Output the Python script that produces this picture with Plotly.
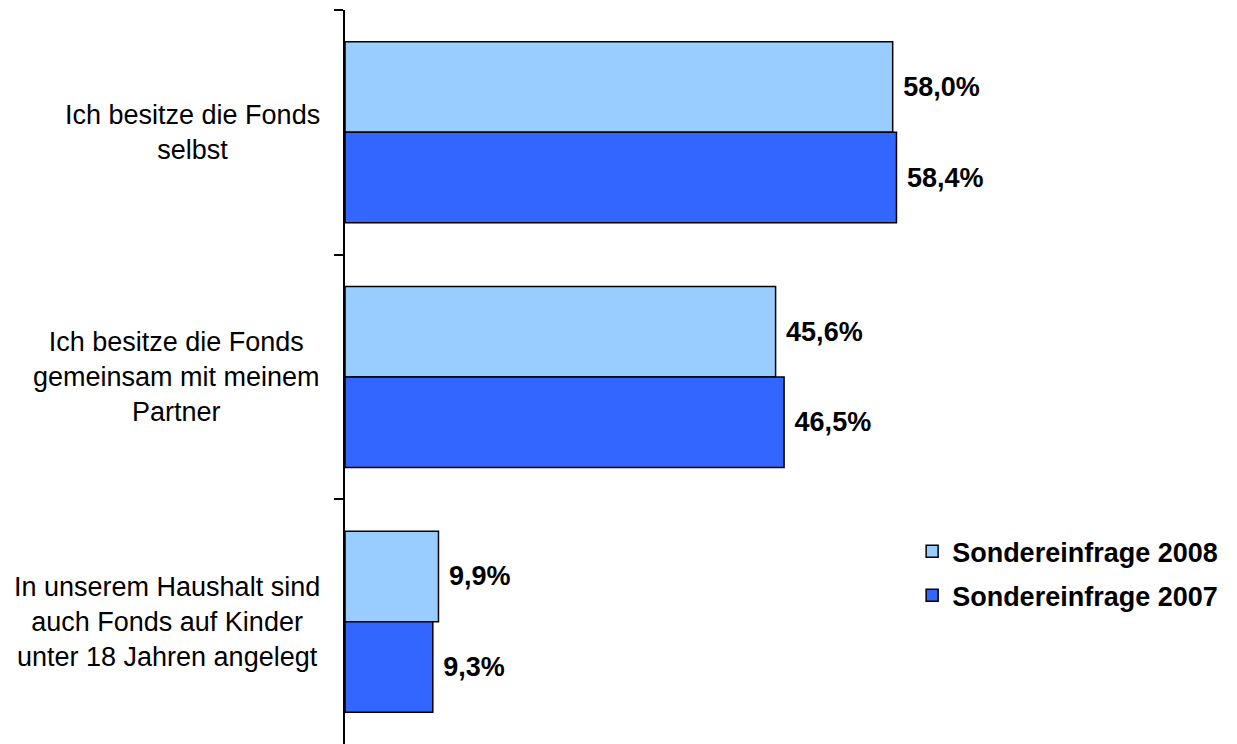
import plotly.graph_objects as go

categories = [
    "Ich besitze die Fonds<br>selbst",
    "Ich besitze die Fonds<br>gemeinsam mit meinem<br>Partner",
    "In unserem Haushalt sind<br>auch Fonds auf Kinder<br>unter 18 Jahren angelegt",
]
series_names = ["Sondereinfrage 2008", "Sondereinfrage 2007"]
values_2008 = [58.0, 45.6, 9.9]
values_2007 = [58.4, 46.5, 9.3]
colors = ["#99CCFF", "#3366FF"]

FONT = "Liberation Sans, Arial, sans-serif"


def fmt(v):
    return " " + f"{v:.1f}".replace(".", ",") + "%"


fig = go.Figure()
for name, vals, col in zip(series_names, [values_2008, values_2007], colors):
    fig.add_trace(go.Bar(
        name=name,
        legendgroup=name,
        y=categories,
        x=vals,
        orientation="h",
        marker=dict(color=col, line=dict(color="#000000", width=1.5)),
        text=[fmt(v) for v in vals],
        textposition="outside",
        textfont=dict(family=FONT, size=27, color="#000000"),
        texttemplate="<b>%{text}</b>",
        constraintext="none",
        cliponaxis=False,
        hoverinfo="skip",
    ))

for i, cat in enumerate(categories):
    fig.add_annotation(
        x=0, xref="paper", xanchor="right", xshift=-23,
        y=cat, yref="y", yanchor="middle",
        text=cat, align="center", showarrow=False,
        font=dict(family=FONT, size=27, color="#000000"),
    )

fig.update_layout(
    width=1237, height=744,
    margin=dict(l=337, r=239, t=2, b=8),
    paper_bgcolor="white", plot_bgcolor="white",
    barmode="group", bargap=0.26, bargroupgap=0,
    font=dict(family=FONT, color="#000000"),
    showlegend=True,
    legend=dict(
        x=0.858, xanchor="left", y=0.2955, yanchor="top",
        font=dict(family=FONT, size=27, color="#000000", weight="bold"),
        bgcolor="rgba(0,0,0,0)", traceorder="grouped", tracegroupgap=6,
    ),
    xaxis=dict(range=[0, 70], visible=False, showgrid=False, zeroline=False),
    yaxis=dict(
        autorange="reversed", showticklabels=False,
        tickson="boundaries", ticks="outside", ticklen=9, tickwidth=1.5,
        tickcolor="#000000", showline=True, linecolor="#000000", linewidth=2,
        showgrid=False, zeroline=False,
    ),
)

fig.write_html("out.html")
